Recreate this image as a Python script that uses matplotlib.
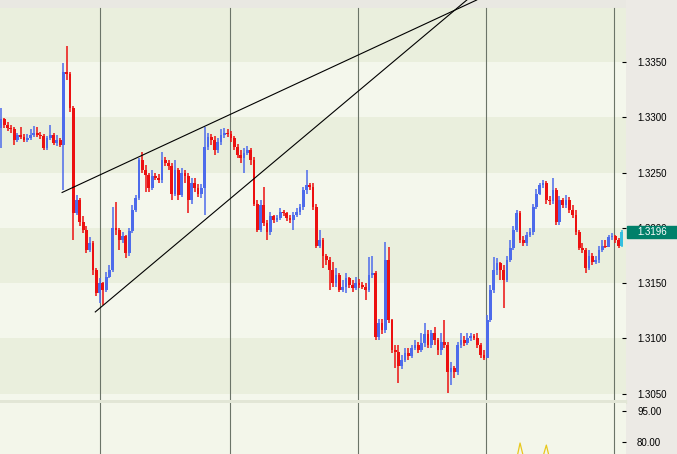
import matplotlib
matplotlib.use("Agg")
import matplotlib.pyplot as plt
from matplotlib.patches import Rectangle
import numpy as np

plt.rcParams['font.family'] = ['Liberation Sans', 'DejaVu Sans']

# open of the first bar, then close/high/low per bar (open = previous close)
first_open = 1.3290
closes = [1.3298, 1.3293, 1.3290, 1.3289, 1.3279, 1.3284, 1.3282, 1.3279, 1.3281, 1.3284,
          1.3286, 1.3284, 1.3283, 1.3272, 1.3281, 1.3284, 1.3277, 1.3279, 1.3275, 1.3341,
          1.3339, 1.3308, 1.3213, 1.3225, 1.3205, 1.3198, 1.3180, 1.3186, 1.3162, 1.3141,
          1.3150, 1.3144, 1.3156, 1.3162, 1.3200, 1.3198, 1.3189, 1.3193, 1.3177, 1.3197,
          1.3216, 1.3227, 1.3261, 1.3252, 1.3248, 1.3236, 1.3247, 1.3245, 1.3243, 1.3261,
          1.3259, 1.3256, 1.3231, 1.3252, 1.3230, 1.3250, 1.3247, 1.3225, 1.3241, 1.3236,
          1.3231, 1.3236, 1.3273, 1.3282, 1.3279, 1.3270, 1.3278, 1.3284, 1.3286, 1.3285,
          1.3281, 1.3273, 1.3266, 1.3263, 1.3268, 1.3270, 1.3261, 1.3222, 1.3198, 1.3221,
          1.3204, 1.3196, 1.3211, 1.3207, 1.3209, 1.3214, 1.3213, 1.3209, 1.3207, 1.3212,
          1.3214, 1.3219, 1.3234, 1.3239, 1.3237, 1.3219, 1.3184, 1.3189, 1.3175, 1.3171,
          1.3162, 1.3150, 1.3157, 1.3144, 1.3147, 1.3155, 1.3148, 1.3146, 1.3150, 1.3148,
          1.3147, 1.3144, 1.3157, 1.3159, 1.3101, 1.3114, 1.3108, 1.3171, 1.3117, 1.3090,
          1.3088, 1.3075, 1.3081, 1.3087, 1.3084, 1.3091, 1.3094, 1.3090, 1.3096, 1.3104,
          1.3094, 1.3105, 1.3099, 1.3090, 1.3097, 1.3094, 1.3070, 1.3073, 1.3070, 1.3094,
          1.3099, 1.3096, 1.3100, 1.3102, 1.3100, 1.3094, 1.3085, 1.3082, 1.3117, 1.3144,
          1.3162, 1.3168, 1.3162, 1.3153, 1.3171, 1.3182, 1.3198, 1.3213, 1.3189, 1.3186,
          1.3194, 1.3196, 1.3219, 1.3231, 1.3239, 1.3241, 1.3225, 1.3224, 1.3234, 1.3205,
          1.3225, 1.3221, 1.3225, 1.3216, 1.3212, 1.3196, 1.3182, 1.3180, 1.3164, 1.3175,
          1.3169, 1.3171, 1.3180, 1.3184, 1.3183, 1.3192, 1.3193, 1.3189, 1.3184, 1.3196]
highs = [1.3308, 1.3299, 1.3296, 1.3293, 1.3291, 1.3286, 1.3291, 1.3285, 1.3285, 1.3289,
         1.3292, 1.3291, 1.3287, 1.3285, 1.3283, 1.3293, 1.3286, 1.3284, 1.3281, 1.3349,
         1.3364, 1.3341, 1.3310, 1.3230, 1.3227, 1.3211, 1.3202, 1.3192, 1.3188, 1.3164,
         1.3155, 1.3151, 1.3160, 1.3166, 1.3219, 1.3223, 1.3200, 1.3196, 1.3194, 1.3200,
         1.3221, 1.3230, 1.3263, 1.3269, 1.3257, 1.3250, 1.3252, 1.3250, 1.3249, 1.3269,
         1.3264, 1.3261, 1.3259, 1.3261, 1.3254, 1.3254, 1.3252, 1.3250, 1.3245, 1.3245,
         1.3240, 1.3240, 1.3291, 1.3286, 1.3285, 1.3283, 1.3281, 1.3289, 1.3290, 1.3289,
         1.3288, 1.3283, 1.3276, 1.3270, 1.3272, 1.3274, 1.3272, 1.3264, 1.3225, 1.3225,
         1.3237, 1.3207, 1.3214, 1.3212, 1.3212, 1.3218, 1.3216, 1.3214, 1.3212, 1.3214,
         1.3218, 1.3222, 1.3237, 1.3252, 1.3241, 1.3241, 1.3222, 1.3198, 1.3191, 1.3176,
         1.3174, 1.3169, 1.3164, 1.3159, 1.3153, 1.3159, 1.3156, 1.3153, 1.3156, 1.3154,
         1.3151, 1.3150, 1.3174, 1.3175, 1.3161, 1.3118, 1.3118, 1.3187, 1.3183, 1.3118,
         1.3094, 1.3094, 1.3085, 1.3091, 1.3091, 1.3094, 1.3099, 1.3097, 1.3105, 1.3114,
         1.3108, 1.3108, 1.3110, 1.3100, 1.3105, 1.3117, 1.3097, 1.3079, 1.3075, 1.3097,
         1.3105, 1.3102, 1.3105, 1.3105, 1.3104, 1.3105, 1.3096, 1.3090, 1.3121, 1.3148,
         1.3174, 1.3173, 1.3169, 1.3166, 1.3175, 1.3189, 1.3202, 1.3216, 1.3215, 1.3193,
         1.3196, 1.3200, 1.3222, 1.3235, 1.3241, 1.3243, 1.3242, 1.3229, 1.3245, 1.3236,
         1.3229, 1.3227, 1.3230, 1.3228, 1.3221, 1.3216, 1.3198, 1.3186, 1.3182, 1.3180,
         1.3177, 1.3175, 1.3184, 1.3189, 1.3189, 1.3194, 1.3195, 1.3194, 1.3191, 1.3198]
lows = [1.3272, 1.3290, 1.3288, 1.3286, 1.3275, 1.3278, 1.3280, 1.3278, 1.3278, 1.3279,
        1.3282, 1.3282, 1.3280, 1.3270, 1.3270, 1.3279, 1.3275, 1.3274, 1.3273, 1.3234,
        1.3334, 1.3305, 1.3189, 1.3212, 1.3202, 1.3195, 1.3177, 1.3178, 1.3157, 1.3138,
        1.3132, 1.3130, 1.3142, 1.3155, 1.3160, 1.3194, 1.3180, 1.3186, 1.3173, 1.3175,
        1.3195, 1.3214, 1.3225, 1.3250, 1.3232, 1.3232, 1.3234, 1.3243, 1.3241, 1.3241,
        1.3256, 1.3252, 1.3225, 1.3229, 1.3225, 1.3228, 1.3241, 1.3213, 1.3222, 1.3232,
        1.3228, 1.3227, 1.3212, 1.3270, 1.3275, 1.3266, 1.3268, 1.3275, 1.3281, 1.3282,
        1.3278, 1.3270, 1.3263, 1.3259, 1.3250, 1.3266, 1.3257, 1.3220, 1.3196, 1.3196,
        1.3202, 1.3189, 1.3194, 1.3204, 1.3205, 1.3207, 1.3211, 1.3206, 1.3204, 1.3198,
        1.3210, 1.3212, 1.3216, 1.3231, 1.3234, 1.3216, 1.3182, 1.3182, 1.3164, 1.3166,
        1.3144, 1.3147, 1.3147, 1.3142, 1.3142, 1.3141, 1.3146, 1.3142, 1.3144, 1.3146,
        1.3145, 1.3135, 1.3142, 1.3155, 1.3099, 1.3099, 1.3104, 1.3105, 1.3114, 1.3087,
        1.3073, 1.3060, 1.3072, 1.3079, 1.3081, 1.3082, 1.3090, 1.3087, 1.3088, 1.3092,
        1.3091, 1.3091, 1.3094, 1.3085, 1.3085, 1.3091, 1.3051, 1.3058, 1.3064, 1.3067,
        1.3091, 1.3093, 1.3094, 1.3098, 1.3099, 1.3091, 1.3082, 1.3081, 1.3082, 1.3115,
        1.3141, 1.3157, 1.3153, 1.3128, 1.3151, 1.3169, 1.3180, 1.3196, 1.3186, 1.3184,
        1.3184, 1.3192, 1.3194, 1.3217, 1.3230, 1.3236, 1.3222, 1.3221, 1.3222, 1.3203,
        1.3203, 1.3218, 1.3218, 1.3213, 1.3209, 1.3194, 1.3180, 1.3177, 1.3159, 1.3162,
        1.3166, 1.3167, 1.3168, 1.3178, 1.3182, 1.3183, 1.3189, 1.3186, 1.3182, 1.3183]

# session separators (bar positions)
day_breaks = [30.2, 69.8, 108.8, 147.6, 186.6]

# trend lines: (bar, price) anchor points
trend_a_x = [18.6, 144.8]
trend_a_y = [1.3232, 1.3406]
trend_b_x = [28.7, 141.8]
trend_b_y = [1.3124, 1.3406]

price_ticks = [1.3050, 1.3100, 1.3150, 1.3200, 1.3250, 1.3300, 1.3350]
band_edges = [1.3050, 1.3100, 1.3150, 1.3200, 1.3250, 1.3300, 1.3350, 1.3399]

# lower indicator (only the part that pokes into view)
ind_x = [155, 156, 157, 158, 159, 160, 163, 164, 165, 166, 167, 168]
ind_y = [60, 66, 72, 79.5, 73, 66, 62, 68, 73, 78.5, 72, 65]
ind_ticks = [80, 95]

UP = '#4D6BEB'
DOWN = '#EC1010'
LAST = '#33BFE0'
DARK_BAND = '#EAEFDD'
LIGHT_BAND = '#F4F7EC'
PANEL = '#ECEAE5'

W, H = 677, 454
fig = plt.figure(figsize=(W / 100, H / 100), dpi=100, facecolor=PANEL)
ax = fig.add_axes([0, 54 / H, 626 / W, 400 / H])
ax2 = fig.add_axes([0, 0, 626 / W, 51 / H])
fig.add_artist(Rectangle((0, 51 / H), 626 / W, 3 / H, transform=fig.transFigure,
                         color='#E2E6D6', zorder=0))

n = len(closes)
idx = np.arange(n)
c = np.array(closes)
o = np.array([first_open] + closes[:-1])
h = np.maximum(np.array(highs), np.maximum(o, c))
l = np.minimum(np.array(lows), np.minimum(o, c))
cols = [UP if cc > oo else DOWN for oo, cc in zip(o, c)]
cols[-1] = LAST

ax.set_facecolor(LIGHT_BAND)
for i in range(len(band_edges) - 1):
    if i % 2 == 0:
        ax.axhspan(band_edges[i], band_edges[i + 1], color=DARK_BAND, lw=0, zorder=0)
ax.axhspan(1.3399, 1.3406, color='#E9E8E2', lw=0, zorder=0.5)

for d in day_breaks:
    ax.axvline(d, ymax=(1.3399 - 1.30444) / (1.3406 - 1.30444), color='#6B7468', lw=0.8, zorder=1)
    ax2.axvline(d, color='#6B7468', lw=0.8, zorder=1)

ax.vlines(idx, l, h, colors=cols, lw=1.1, zorder=2)
ax.bar(idx, np.abs(c - o), bottom=np.minimum(o, c), width=0.85, color=cols, lw=0, zorder=3)

for tx, ty in ((trend_a_x, trend_a_y), (trend_b_x, trend_b_y)):
    ax.plot(tx, ty, color='black', lw=0.8, zorder=4)

ax.set_xlim(-0.3, 190.25)
ax.set_ylim(1.30444, 1.3406)
ax.set_xticks([])
ax.yaxis.tick_right()
ax.set_yticks(price_ticks)
ax.set_yticklabels(['%.4f' % p for p in price_ticks])
ax.tick_params(axis='y', direction='in', length=3, width=0.8, pad=8, labelsize=7)
for s in ax.spines.values():
    s.set_visible(False)

ax2.set_facecolor('#F3F6EA')
ax2.plot(ind_x, ind_y, color='#E8C81E', lw=0.9)
ax2.set_xlim(-0.3, 190.25)
ax2.set_ylim(74.19, 98.87)
ax2.set_xticks([])
ax2.yaxis.tick_right()
ax2.set_yticks(ind_ticks)
ax2.set_yticklabels(['%.2f' % v for v in ind_ticks])
ax2.tick_params(axis='y', direction='in', length=3, width=0.8, pad=8, labelsize=7)
for s in ax2.spines.values():
    s.set_visible(False)

# current price tag (sits over the 1.3200 label, as in the terminal)
fig.canvas.draw()
y_pix = ax.transData.transform((0, closes[-1]))[1]
fig.add_artist(Rectangle((627 / W, (y_pix - 6) / H), 50 / W, 12 / H,
                         transform=fig.transFigure, color='#00806A', zorder=10))
fig.text(637 / W, y_pix / H, '%.4f' % closes[-1], color='white', fontsize=7,
         va='center', ha='left', zorder=11)

fig.savefig('out.png', dpi=100, facecolor=PANEL)
